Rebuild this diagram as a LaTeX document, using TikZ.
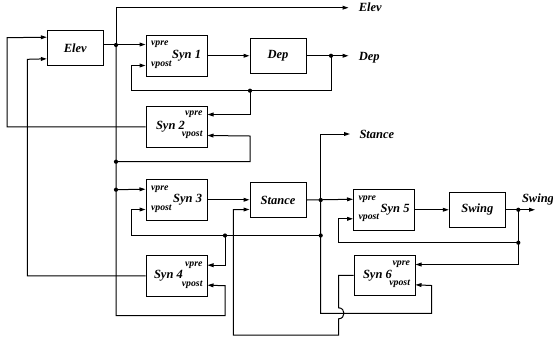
\documentclass[tikz,border=0pt]{standalone}
\usepackage{fontspec}
\setmainfont{Liberation Serif}
\usetikzlibrary{arrows.meta,calc}
\begin{document}
\begin{tikzpicture}[x=1pt,y=-1pt,
  line width=1pt,
  unitbox/.style={draw, minimum width=56pt, minimum height=35pt, inner sep=0pt,
    font=\fontsize{12.5}{14}\selectfont\bfseries\itshape},
  synbox/.style={draw, minimum width=61pt, minimum height=40.5pt, inner sep=0pt},
  big/.style={font=\fontsize{12.5}{14}\selectfont\bfseries\itshape, inner sep=0pt},
  small/.style={font=\fontsize{9.8}{11}\selectfont\bfseries\itshape, inner sep=0pt},
  arr/.style={-{Triangle[length=6pt,width=3.8pt]}},
  dot/.style={circle, fill, inner sep=0pt, minimum size=4.2pt},
]
\useasboundingbox (0,0) rectangle (553,341);

% blocks
\node[unitbox] (elev) at (75.3,48.2) {Elev};
\node[unitbox] (dep) at (278,55.75) {Dep};
\node[unitbox] (stance) at (278,200) {Stance};
\node[unitbox] (swing) at (477.3,209.75) {Swing};
\node[synbox] (syn1) at (176.5,55.75) {};
\node[synbox] (syn2) at (176.5,126.75) {};
\node[synbox] (syn3) at (176.5,199.75) {};
\node[synbox] (syn4) at (176.5,275.75) {};
\node[synbox] (syn5) at (384,209.75) {};
\node[synbox] (syn6) at (384.5,275.25) {};

% ports
\coordinate (s1pre) at ($(syn1.north west)+(0,9.5)$);
\coordinate (s1post) at ($(syn1.north west)+(0,30.5)$);
\coordinate (s2pre) at ($(syn2.north east)+(0,8.5)$);
\coordinate (s2post) at ($(syn2.north east)+(0,29.5)$);
\coordinate (s3pre) at ($(syn3.north west)+(0,10.2)$);
\coordinate (s3post) at ($(syn3.north west)+(0,30.5)$);
\coordinate (s4pre) at ($(syn4.north east)+(0,10.2)$);
\coordinate (s4post) at ($(syn4.north east)+(0,30.2)$);
\coordinate (s5pre) at ($(syn5.north west)+(0,10.25)$);
\coordinate (s5post) at ($(syn5.north west)+(0,29.8)$);
\coordinate (s6pre) at ($(syn6.north east)+(0,10)$);
\coordinate (s6post) at ($(syn6.north east)+(0,30.3)$);
\coordinate (ein1) at ($(elev.north west)+(0,7)$);
\coordinate (ein2) at ($(elev.north west)+(0,28.6)$);
\coordinate (eout) at ($(elev.north east)+(0,14.3)$);
\coordinate (sin2) at ($(stance.north west)+(0,27.5)$);

% syn labels
\node[small, anchor=base west] (t1a) at ($(s1pre)+(5,1)$) {vpre};
\node[small, anchor=base west] (t1b) at ($(s1post)+(5,1)$) {vpost};
\node[big, anchor=base east] (t1c) at ($(syn1.east)+(-6,3)$) {Syn 1};
\node[small, anchor=base east] (t2a) at ($(s2pre)+(-4.5,1)$) {vpre};
\node[small, anchor=base east] (t2b) at ($(s2post)+(-4.5,1)$) {vpost};
\node[big, anchor=base west] (t2c) at ($(syn2.west)+(10,3)$) {Syn 2};
\node[small, anchor=base west] (t3a) at ($(s3pre)+(5,1)$) {vpre};
\node[small, anchor=base west] (t3b) at ($(s3post)+(5,1)$) {vpost};
\node[big, anchor=base east] (t3c) at ($(syn3.east)+(-5,3)$) {Syn 3};
\node[small, anchor=base east] (t4a) at ($(s4pre)+(-4.5,1)$) {vpre};
\node[small, anchor=base east] (t4b) at ($(s4post)+(-4.5,1)$) {vpost};
\node[big, anchor=base west] (t4c) at ($(syn4.west)+(8,3)$) {Syn 4};
\node[small, anchor=base west] (t5a) at ($(s5pre)+(5,1)$) {vpre};
\node[small, anchor=base west] (t5b) at ($(s5post)+(5,1)$) {vpost};
\node[big, anchor=base east] (t5c) at ($(syn5.east)+(-5,3)$) {Syn 5};
\node[small, anchor=base east] (t6a) at ($(s6pre)+(-5,1)$) {vpre};
\node[small, anchor=base east] (t6b) at ($(s6post)+(-5,1)$) {vpost};
\node[big, anchor=base west] (t6c) at ($(syn6.west)+(9,3)$) {Syn 6};

% output labels
\coordinate (oElev) at (348.5,7.7);
\coordinate (oDep) at (348.5,55.75);
\coordinate (oStance) at (350,134);
\coordinate (oSwing) at (535,209.75);
\node[big, anchor=base west] (lElev) at (358.3,11.7) {Elev};
\node[big, anchor=base west] (lDep) at (358.3,60) {Dep};
\node[big, anchor=base west] (lStance) at (359,138) {Stance};
\node[big, anchor=base west] (lSwing) at (521.5,202.3) {Swing};

% junction dots
\node[dot] (d1) at (116,45) {};
\node[dot] (d2) at (116,161.7) {};
\node[dot] (d3) at (116,189.7) {};
\node[dot] (d4) at (331,55.75) {};
\node[dot] (d5) at (250,90.7) {};
\node[dot] (d6) at (320.7,200) {};
\node[dot] (d7) at (320.7,235.5) {};
\node[dot] (d8) at (225,235.5) {};
\node[dot] (d9) at (518.3,209.75) {};
\node[dot] (d10) at (518.3,242.7) {};

% Elev block connections
\draw[arr] (eout) -- (s1pre);
\draw[arr] (d1.center) |- (oElev);
\draw[arr] (d1.center) -- (116,315.7) -| (225,285.7) -- (s4post);
\draw[arr] (d2.center) -| (250,136) -- (s2post);
\draw[arr] (d3.center) -- (s3pre);
\draw[arr] (syn2.west) -| (7,37.7) -- (ein1);
\draw[arr] (syn4.west) -| (27.3,59.3) -- (ein2);

% Dep
\draw[arr] (syn1.east) -- (dep.west);
\draw[arr] (dep.east) -- (oDep);
\draw[arr] (d4.center) |- (131,90.7) |- (s1post);
\draw[arr] (d5.center) |- (s2pre);

% Stance
\draw[arr] (syn3.east) -- (syn3.east -| stance.west);
\draw[arr] (stance.east) -- (s5pre);
\draw[arr] (d6.center) |- (oStance);
\draw[arr] (d6.center) -- (320.7,313.3) -| (431.7,285.5) -- (s6post);
\draw[arr] (d7.center) -- (131,235.5) |- (s3post);
\draw[arr] (d8.center) |- (s4pre);
\draw[arr] (syn6.west) -| (338.5,307.8) .. controls (345.8,307.8) and (345.8,318.8) .. (338.5,318.8)
  -- (338.5,335) -| (233.3,215) |- (sin2);

% Swing
\draw[arr] (syn5.east) -- (swing.west);
\draw[arr] (swing.east) -- (oSwing);
\draw[arr] (d9.center) -- (d10.center) -- (338.5,242.7) |- (s5post);
\draw[arr] (d10.center) |- (s6pre);
\end{tikzpicture}
\end{document}
